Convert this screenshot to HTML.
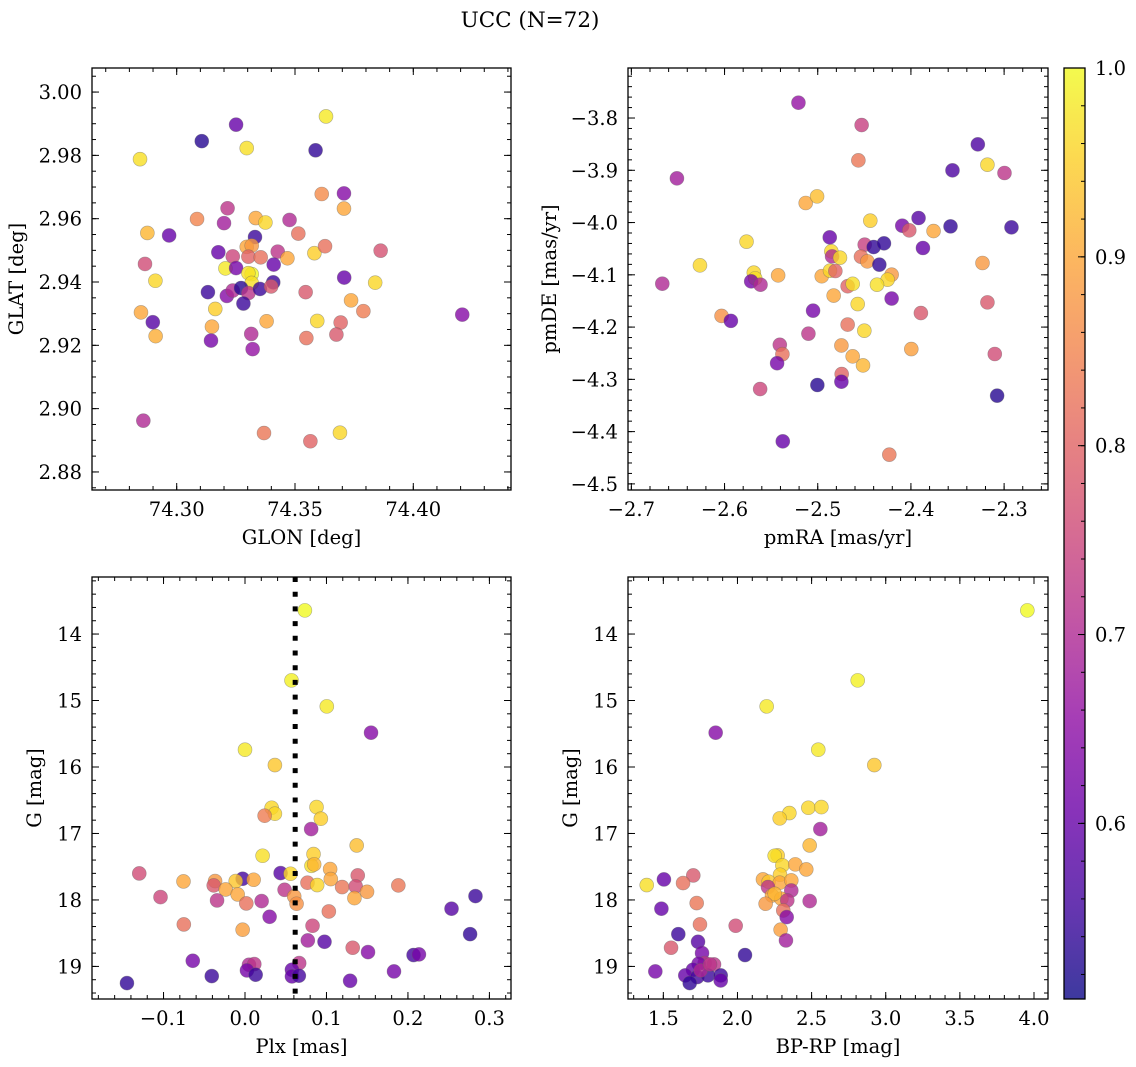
<!DOCTYPE html>
<html><head><meta charset="utf-8">
<style>
html,body{margin:0;padding:0;background:#fff;}
svg{display:block;}
text{font-family:"DejaVu Serif","Liberation Serif",serif;fill:#000;}
</style></head>
<body>
<svg id="fig" width="1136" height="1067" viewBox="0 0 1136 1067" xmlns="http://www.w3.org/2000/svg">
<text x="530" y="27" font-size="21.5" text-anchor="middle">UCC (N=72)</text>
</svg>
<script>
// ---------- DATA ----------
const glon=[74.2845,74.3106,74.3251,74.3296,74.3631,74.3587,74.3613,74.3707,74.3707,74.3215,74.3086,74.3200,74.3334,74.3375,74.3477,74.3514,74.2876,74.2968,74.3331,74.3296,74.3317,74.3176,74.3237,74.3303,74.3355,74.3427,74.3468,74.3582,74.3627,74.3862,74.2866,74.2910,74.3206,74.3251,74.3410,74.3317,74.3303,74.3317,74.3408,74.3708,74.3839,74.3132,74.3212,74.3237,74.3272,74.3303,74.3352,74.3399,74.3282,74.3545,74.3737,74.3789,74.2849,74.2899,74.3163,74.3380,74.3594,74.3693,74.2911,74.3149,74.3145,74.3315,74.3321,74.3548,74.3675,74.4207,74.2859,74.3369,74.3565,74.3690];
const glat=[2.9788,2.9845,2.9897,2.9823,2.9923,2.9816,2.9678,2.9680,2.9632,2.9633,2.9599,2.9586,2.9602,2.9588,2.9596,2.9553,2.9555,2.9547,2.9542,2.9511,2.9515,2.9494,2.9481,2.9480,2.9478,2.9496,2.9475,2.9491,2.9513,2.9499,2.9457,2.9404,2.9443,2.9444,2.9455,2.9425,2.9428,2.9397,2.9399,2.9414,2.9398,2.9368,2.9356,2.9373,2.9381,2.9365,2.9378,2.9386,2.9332,2.9368,2.9342,2.9308,2.9304,2.9273,2.9315,2.9276,2.9277,2.9272,2.9229,2.9259,2.9215,2.9236,2.9188,2.9223,2.9234,2.9297,2.8962,2.8923,2.8897,2.8924];
const probA=[.97,.53,.6,.97,.98,.54,.86,.64,.9,.72,.85,.68,.9,.96,.7,.82,.92,.6,.55,.9,.88,.6,.75,.8,.82,.72,.9,.95,.82,.77,.76,.96,.98,.62,.6,1.0,.97,.97,.55,.6,.96,.55,.64,.7,.53,.72,.55,.78,.55,.78,.9,.84,.9,.58,.95,.9,.96,.8,.91,.9,.62,.7,.66,.82,.78,.64,.7,.83,.8,.96];

const pmra=[-2.5207,-2.4529,-2.4564,-2.3282,-2.3179,-2.2996,-2.3554,-2.6511,-2.5129,-2.5007,-2.4436,-2.3918,-2.4093,-2.4018,-2.3575,-2.2921,-2.3757,-2.5764,-2.4871,-2.4496,-2.4400,-2.4289,-2.3871,-2.6264,-2.4854,-2.4846,-2.4761,-2.4536,-2.4468,-2.4339,-2.3232,-2.5686,-2.5671,-2.5714,-2.5614,-2.5425,-2.4957,-2.4868,-2.4811,-2.4207,-2.4250,-2.4364,-2.4679,-2.4625,-2.6668,-2.4829,-2.4571,-2.4207,-2.5050,-2.3893,-2.3179,-2.6032,-2.5932,-2.4679,-2.5100,-2.4500,-2.5407,-2.5379,-2.4746,-2.4625,-2.4514,-2.3996,-2.3100,-2.5436,-2.4743,-2.4746,-2.5004,-2.5618,-2.3075,-2.5375,-2.4232];
const pmde=[-3.7707,-3.8134,-3.8810,-3.8504,-3.8893,-3.9052,-3.9001,-3.9154,-3.9626,-3.9499,-3.9964,-3.9913,-4.0060,-4.0149,-4.0073,-4.0092,-4.0162,-4.0366,-4.0283,-4.0423,-4.0468,-4.0398,-4.0487,-4.0819,-4.0551,-4.0647,-4.0672,-4.0653,-4.0742,-4.0806,-4.0774,-4.0959,-4.1068,-4.1125,-4.1189,-4.1010,-4.1027,-4.0921,-4.0927,-4.0997,-4.1093,-4.1189,-4.1218,-4.1173,-4.1170,-4.1397,-4.1559,-4.1454,-4.1686,-4.1731,-4.1527,-4.1786,-4.1881,-4.1952,-4.2126,-4.2069,-4.2339,-4.2518,-4.2352,-4.2560,-4.2733,-4.2420,-4.2515,-4.2691,-4.2898,-4.3045,-4.3108,-4.3185,-4.3312,-4.4186,-4.4441];
const probB=[.66,.74,.83,.57,.96,.72,.57,.68,.9,.93,.95,.58,.62,.78,.54,.55,.9,.96,.6,.74,.54,.54,.6,.96,.96,.7,.96,.82,.88,.54,.88,.96,.97,.62,.7,.9,.9,.96,.8,.88,.96,.97,.8,.97,.7,.9,.96,.62,.62,.78,.78,.87,.6,.82,.72,.96,.72,.82,.88,.9,.92,.89,.76,.62,.8,.6,.53,.75,.53,.6,.83];

const plx=[0.0735,0.0571,0.1004,0.1547,0.0,0.0367,0.0327,0.0367,0.0241,0.0878,0.0931,0.0812,0.1371,0.0216,0.0841,0.0816,0.0849,-0.1298,0.0437,0.0559,0.1045,0.1053,0.1384,-0.0755,-0.0367,-0.0384,-0.0029,-0.0114,0.0106,-0.0237,-0.0090,0.0486,0.0767,0.0886,0.1192,0.1359,0.1498,0.1882,0.1343,0.0604,0.0633,-0.1037,-0.0343,0.0016,0.0204,0.1029,0.2829,0.2535,0.0302,-0.0751,-0.0029,0.0829,0.2763,0.0771,0.0976,0.1322,0.1510,0.2069,0.2135,-0.0641,0.0049,0.0114,0.0024,0.0665,0.0576,0.0131,0.0576,0.0661,-0.0408,0.1829,0.1290,-0.1449];
const gmagC=[13.644,14.697,15.088,15.484,15.740,15.971,16.613,16.703,16.733,16.603,16.778,16.934,17.180,17.335,17.310,17.486,17.465,17.601,17.596,17.606,17.536,17.686,17.631,17.721,17.716,17.781,17.681,17.716,17.696,17.842,17.917,17.847,17.741,17.776,17.806,17.796,17.877,17.781,17.972,17.947,18.057,17.957,18.007,18.052,18.017,18.173,17.942,18.132,18.253,18.368,18.448,18.388,18.514,18.609,18.629,18.719,18.784,18.829,18.819,18.915,18.975,18.965,19.060,18.950,19.050,19.125,19.150,19.140,19.145,19.075,19.216,19.251];
const probC=[1.0,.99,.98,.64,.98,.94,.96,.96,.84,.96,.95,.68,.93,.97,.95,.97,.92,.76,.58,.96,.9,.9,.78,.9,.88,.78,.56,.94,.9,.9,.9,.72,.82,.96,.83,.76,.88,.83,.9,.88,.87,.75,.72,.82,.7,.82,.55,.58,.64,.82,.89,.75,.54,.68,.58,.78,.64,.56,.62,.62,.7,.72,.62,.72,.6,.55,.6,.56,.55,.62,.6,.54];
const plxLine=0.0616;

const bprp=[3.955,2.811,2.197,1.853,2.545,2.923,2.478,2.566,2.350,2.285,2.559,2.487,2.271,2.251,2.303,2.390,2.464,2.287,1.388,1.504,1.702,1.633,2.172,2.210,2.285,2.363,2.363,2.206,2.233,2.296,2.251,2.336,2.487,1.725,2.190,1.487,2.309,2.332,1.747,1.988,2.291,1.601,2.327,1.734,1.552,2.051,1.761,1.446,1.779,1.842,1.738,1.700,1.648,1.729,1.801,1.887,1.887,1.678,1.752,1.815];
const gmagD=[13.644,14.697,15.088,15.484,15.740,15.971,16.613,16.603,16.693,16.773,16.934,17.180,17.330,17.335,17.480,17.465,17.541,17.621,17.776,17.691,17.631,17.746,17.691,17.726,17.741,17.706,17.857,17.806,17.932,17.982,17.907,18.007,18.017,18.047,18.057,18.132,18.158,18.258,18.368,18.388,18.448,18.514,18.609,18.629,18.719,18.829,18.799,19.075,18.950,18.970,18.960,19.050,19.135,19.160,19.135,19.135,19.211,19.251,19.060,18.970];
const probD=[1.0,.99,.98,.64,.98,.94,.96,.96,.96,.95,.68,.92,.95,.97,.96,.9,.9,.95,.97,.6,.78,.82,.9,.94,.9,.9,.7,.72,.9,.9,.92,.72,.7,.83,.88,.6,.82,.64,.82,.76,.89,.55,.68,.58,.78,.54,.62,.62,.72,.72,.62,.6,.6,.56,.55,.55,.6,.54,.7,.72];

const cbTicks=[0.6,0.7,0.8,0.9,1.0];
const vmin=0.507, vmax=1.0;

// ---------- RENDER ----------
const NS="http://www.w3.org/2000/svg";
const svg=document.getElementById('fig');
const FS=19.5;
function el(tag,attrs,parent){const e=document.createElementNS(NS,tag);for(const k in attrs)e.setAttribute(k,attrs[k]);(parent||svg).appendChild(e);return e;}
const plasma=[[13,8,135],[65,4,157],[106,0,168],[143,13,164],[177,42,144],[204,71,120],[225,100,98],[242,132,75],[252,166,54],[252,206,37],[240,249,33]];
function cmap(v){let t=(v-vmin)/(vmax-vmin);t=Math.max(0,Math.min(1,t));const s=t*10,i=Math.min(9,Math.floor(s)),f=s-i;const a=plasma[i],b=plasma[i+1];return 'rgb('+[0,1,2].map(k=>Math.round(a[k]+(b[k]-a[k])*f)).join(',')+')';}
function fmt(v,d){const s=Math.abs(v).toFixed(d);return (v<-1e-9?'\u2212':'')+s;}

function panel(cfg){
  const g=el('g',{},svg);
  
  
  const {x0,y0,w,h,xd,yd}=cfg;
  const sx=v=>x0+(v-xd[0])/(xd[1]-xd[0])*w;
  const sy=v=>cfg.yinv? y0+(v-yd[0])/(yd[1]-yd[0])*h : y0+h-(v-yd[0])/(yd[1]-yd[0])*h;
  const clip='clip-'+cfg.name;
  const cp=el('clipPath',{id:clip},g);el('rect',{x:x0,y:y0,width:w,height:h},cp);
  const pts=el('g',{'clip-path':'url(#'+clip+')'},g);
  
  
  cfg.p.forEach((p,i)=>{
    const c=el('circle',{cx:sx(cfg.x[i]),cy:sy(cfg.y[i]),r:7,fill:cmap(cfg.p[i]),'fill-opacity':0.8,stroke:'#666','stroke-opacity':0.5,'stroke-width':0.6},pts);
    
    
  });
  if(cfg.vline!==undefined){
    const ln=el('line',{x1:sx(cfg.vline),x2:sx(cfg.vline),y1:y0,y2:y0+h,stroke:'#000','stroke-width':5,'stroke-dasharray':'5 9.7'},g);
    
    
  }
  const tk=el('g',{stroke:'#000','stroke-width':1},g);
  function ticksOf(d,step){const a=[];const lo=Math.min(d[0],d[1]),hi=Math.max(d[0],d[1]);for(let v=Math.ceil(lo/step-1e-6)*step;v<=hi+1e-9;v+=step)a.push(+v.toFixed(6));return a;}
  ticksOf(xd,cfg.xminor).forEach(v=>{const X=sx(v);el('line',{x1:X,x2:X,y1:y0+h,y2:y0+h-4},tk);el('line',{x1:X,x2:X,y1:y0,y2:y0+4},tk);});
  ticksOf(yd,cfg.yminor).forEach(v=>{const Y=sy(v);el('line',{x1:x0,x2:x0+4,y1:Y,y2:Y},tk);el('line',{x1:x0+w,x2:x0+w-4,y1:Y,y2:Y},tk);});
  ticksOf(xd,cfg.xmajor).forEach(v=>{const X=sx(v);el('line',{x1:X,x2:X,y1:y0+h,y2:y0+h-7},tk);el('line',{x1:X,x2:X,y1:y0,y2:y0+7},tk);
    const t=el('text',{x:X,y:y0+h+26,'font-size':FS,'text-anchor':'middle'},g);t.textContent=fmt(v,cfg.xdec);
    
    });
  ticksOf(yd,cfg.ymajor).forEach(v=>{const Y=sy(v);el('line',{x1:x0,x2:x0+7,y1:Y,y2:Y},tk);el('line',{x1:x0+w,x2:x0+w-7,y1:Y,y2:Y},tk);
    const t=el('text',{x:x0-10,y:Y+7,'font-size':FS,'text-anchor':'end'},g);t.textContent=fmt(v,cfg.ydec);
    
    });
  const fr=el('rect',{x:x0,y:y0,width:w,height:h,fill:'none',stroke:'#000','stroke-width':1.3},g);
  
  
  const xl=el('text',{x:x0+w/2,y:y0+h+54,'font-size':FS,'text-anchor':'middle'},g);xl.textContent=cfg.xlabel;
  
  
  const yl=el('text',{x:cfg.ylx,y:y0+h/2,'font-size':FS,'text-anchor':'middle',transform:'rotate(-90 '+cfg.ylx+' '+(y0+h/2)+')'},g);yl.textContent=cfg.ylabel;
  
  
}

panel({name:'glon-glat-panel',x0:92,y0:68,w:419,h:422,xd:[74.2642,74.4413],yd:[2.8743,3.0076],x:glon,y:glat,p:probA,xmajor:0.05,xminor:0.01,ymajor:0.02,yminor:0.005,xdec:2,ydec:2,xlabel:'GLON [deg]',ylabel:'GLAT [deg]',ylx:23});
panel({name:'pm-panel',x0:628,y0:68,w:420,h:422,xd:[-2.7036,-2.2529],yd:[-4.5117,-3.7043],x:pmra,y:pmde,p:probB,xmajor:0.1,xminor:0.02,ymajor:0.1,yminor:0.02,xdec:1,ydec:1,xlabel:'pmRA [mas/yr]',ylabel:'pmDE [mas/yr]',ylx:556});
panel({name:'plx-g-panel',x0:92,y0:577,w:419,h:422,xd:[-0.1878,0.3265],yd:[13.142,19.49],yinv:true,x:plx,y:gmagC,p:probC,vline:plxLine,xmajor:0.1,xminor:0.02,ymajor:1,yminor:0.2,xdec:1,ydec:0,xlabel:'Plx [mas]',ylabel:'G [mag]',ylx:41});
panel({name:'cmd-panel',x0:628,y0:577,w:420,h:422,xd:[1.2617,4.0944],yd:[13.142,19.49],yinv:true,x:bprp,y:gmagD,p:probD,xmajor:0.5,xminor:0.1,ymajor:1,yminor:0.2,xdec:1,ydec:0,xlabel:'BP-RP [mag]',ylabel:'G [mag]',ylx:577});

// colorbar
const cb=el('g',{},svg);


const cx0=1064,cy0=68,cw=21,ch=931;
const grad=el('linearGradient',{id:'cbg',x1:0,y1:1,x2:0,y2:0},el('defs',{},cb));
for(let i=0;i<=20;i++){const v=vmin+(vmax-vmin)*i/20;el('stop',{offset:(i/20),'stop-color':cmap(v),'stop-opacity':0.8},grad);}
el('rect',{x:cx0,y:cy0,width:cw,height:ch,fill:'url(#cbg)'},cb);
const cyv=v=>cy0+ch-(v-vmin)/(vmax-vmin)*ch;
for(let v=0.52;v<=1.0001;v+=0.02){const Y=cyv(v);el('line',{x1:cx0+cw,x2:cx0+cw-4,y1:Y,y2:Y,stroke:'#000','stroke-width':1},cb);}
cbTicks.forEach(v=>{const Y=cyv(v);el('line',{x1:cx0+cw,x2:cx0+cw-7,y1:Y,y2:Y,stroke:'#000','stroke-width':1},cb);
  const t=el('text',{x:cx0+cw+10,y:Y+7,'font-size':FS},cb);t.textContent=v.toFixed(1);
  
  });
el('rect',{x:cx0,y:cy0,width:cw,height:ch,fill:'none',stroke:'#000','stroke-width':1.3},cb);
</script>
</body></html>
